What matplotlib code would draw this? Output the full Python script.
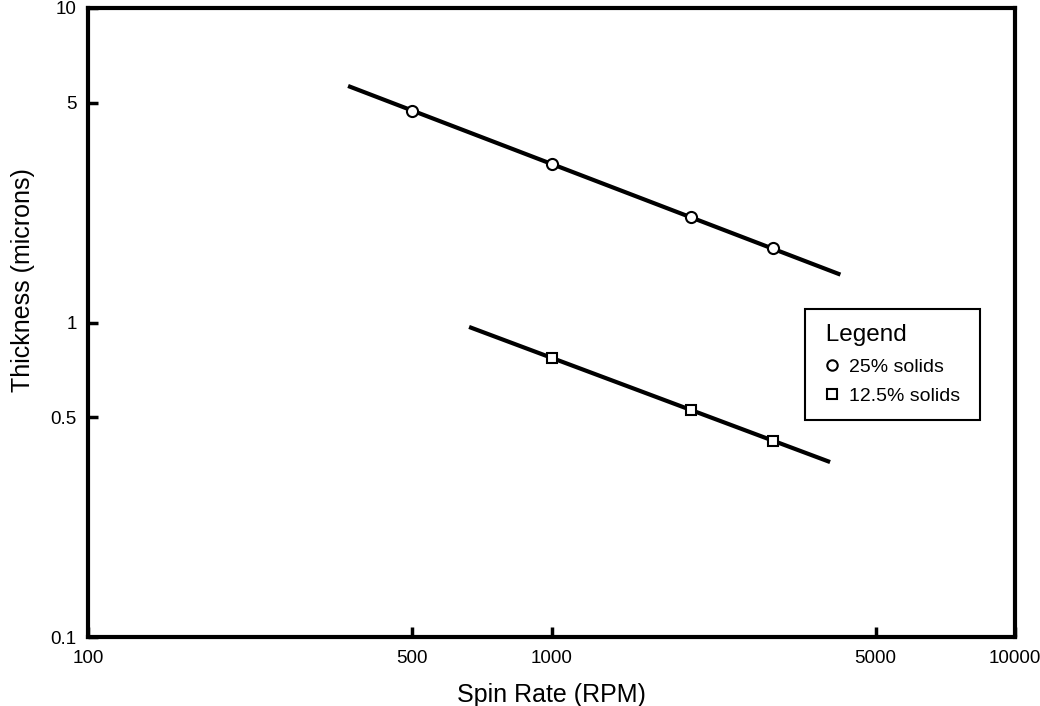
#!/usr/bin/env python3
# spin curve: film thickness vs spin rate, log-log
import matplotlib
matplotlib.use('Agg')
import matplotlib.pyplot as plt
from matplotlib.lines import Line2D

# measured points
rpm_25 = [500, 1000, 2000, 3000]
thk_25 = [4.7, 3.2, 2.17, 1.72]
rpm_125 = [1000, 2000, 3000]
thk_125 = [0.77, 0.527, 0.42]

# fitted line end points
fit_rpm_25 = [364, 4200]
fit_thk_25 = [5.65, 1.42]
fit_rpm_125 = [664, 3990]
fit_thk_125 = [0.968, 0.36]

xticks = [100, 500, 1000, 5000, 10000]
xlabels = ['100', '500', '1000', '5000', '10000']
yticks = [0.1, 0.5, 1, 5, 10]
ylabels = ['0.1', '0.5', '1', '5', '10']

sans = ['Liberation Sans', 'DejaVu Sans']

fig = plt.figure(figsize=(10.4, 7.06), dpi=100)
ax = fig.add_axes([0.0846, 0.0977, 0.8914, 0.891])

ax.plot(fit_rpm_25, fit_thk_25, color='black', lw=3, solid_capstyle='butt', zorder=2)
ax.plot(fit_rpm_125, fit_thk_125, color='black', lw=3, solid_capstyle='butt', zorder=2)
ax.plot(rpm_25, thk_25, 'o', ms=8, mfc='white', mec='black', mew=1.5, zorder=3)
ax.plot(rpm_125, thk_125, 's', ms=7.5, mfc='white', mec='black', mew=1.5, zorder=3)

ax.set_xscale('log')
ax.set_yscale('log')
ax.set_xlim(100, 10000)
ax.set_ylim(0.1, 10)
ax.set_xticks(xticks)
ax.set_xticklabels(xlabels, fontfamily=sans, fontsize=13.5)
ax.set_yticks(yticks)
ax.set_yticklabels(ylabels, fontfamily=sans, fontsize=13.5)
ax.minorticks_off()
ax.tick_params(direction='in', length=7, width=2.5, pad=8)
ax.tick_params(axis='x', pad=9)
for s in ax.spines.values():
    s.set_linewidth(3)

ax.set_xlabel('Spin Rate (RPM)', fontfamily=sans, fontsize=18, labelpad=12)
ax.set_ylabel('Thickness (microns)', fontfamily=sans, fontsize=18)
ax.yaxis.set_label_coords(-0.057, 0.568)

handles = [
    Line2D([], [], ls='none', marker='o', ms=7.5, mfc='white', mec='black', mew=1.5),
    Line2D([], [], ls='none', marker='s', ms=7.5, mfc='white', mec='black', mew=1.5),
]
leg = ax.legend(handles, ['25% solids', '12.5% solids '], title=' Legend',
                loc='upper left', bbox_to_anchor=(0.773, 0.521),
                prop={'family': sans, 'size': 14},
                title_fontproperties={'family': sans, 'size': 17.5},
                alignment='left', fancybox=False, edgecolor='black',
                framealpha=1, handlelength=1.3, handletextpad=0.25,
                borderpad=0.75, labelspacing=0.62, borderaxespad=0)
leg.get_frame().set_linewidth(1.5)

fig.savefig('out.png', dpi=100)
